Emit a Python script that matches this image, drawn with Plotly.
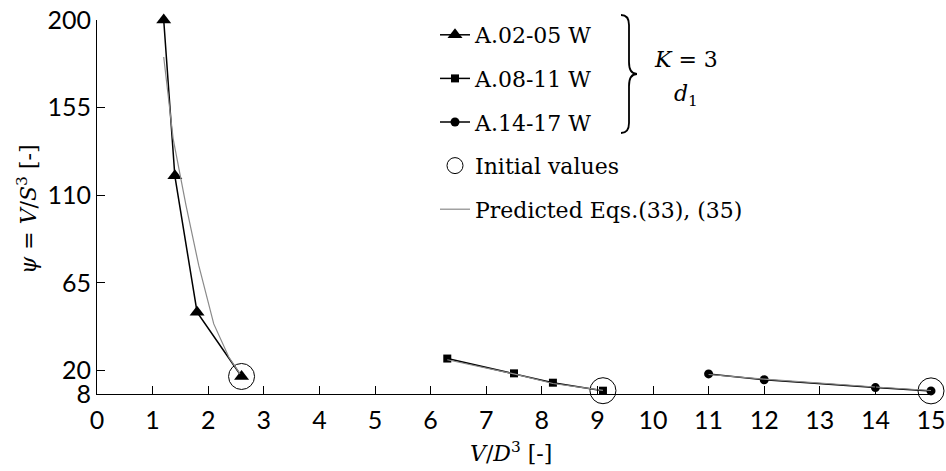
import plotly.graph_objects as go

# ---- data ----
x_a0205 = [1.2, 1.4, 1.8, 2.6]
y_a0205 = [200, 120, 50, 17]
x_a0811 = [6.3, 7.5, 8.2, 9.1]
y_a0811 = [26.2, 18.6, 13.8, 9.7]
x_a1417 = [11, 12, 14, 15]
y_a1417 = [18.3, 15.3, 11.3, 9.6]

x_init = [2.6, 9.1, 15]
y_init = [17, 9.7, 9.6]

x_pred1 = [1.2, 1.37, 1.6, 1.83, 2.1, 2.37, 2.57]
y_pred1 = [181, 139, 105, 74, 44, 27, 18.5]
x_pred2 = [6.3, 7.5, 8.2, 9.1]
y_pred2 = [25.6, 18.3, 13.4, 9.9]
x_pred3 = [11, 12, 14, 15]
y_pred3 = [18.0, 15.6, 11.6, 9.8]

x_ticks = list(range(0, 16))
y_ticks = [8, 20, 65, 110, 155, 200]

SERIF = "DejaVu Serif"
SANS = "Lato"

# geometry (window pixels; body margin is removed below)
W, H = 946, 471
L, R, T, B = 97, 946 - 931, 20, 471 - 394
PW, PH = W - L - R, H - T - B


def px2paper(px, py):
    """window pixel -> paper fraction"""
    return (px - L) / PW, (H - B - py) / PH


fig = go.Figure()

fig.add_trace(go.Scatter(
    x=x_a0205, y=y_a0205, mode="lines+markers", name="A.02-05 W",
    line=dict(color="black", width=1.5),
    marker=dict(symbol="triangle-up", size=13, color="black"),
    cliponaxis=False, legendgroup="g1"))
fig.add_trace(go.Scatter(
    x=x_a0811, y=y_a0811, mode="lines+markers", name="A.08-11 W",
    line=dict(color="black", width=1.5),
    marker=dict(symbol="square", size=8, color="black"),
    cliponaxis=False, legendgroup="g2"))
fig.add_trace(go.Scatter(
    x=x_a1417, y=y_a1417, mode="lines+markers", name="A.14-17 W",
    line=dict(color="black", width=1.5),
    marker=dict(symbol="circle", size=9, color="black"),
    cliponaxis=False, legendgroup="g3"))
fig.add_trace(go.Scatter(
    x=x_init, y=y_init, mode="markers", name="Initial values",
    marker=dict(symbol="circle-open", size=26, color="black", line=dict(width=1)),
    cliponaxis=False, legendgroup="g4"))
fig.add_trace(go.Scatter(
    x=x_pred1, y=y_pred1, mode="lines", name="Predicted Eqs.(33), (35)",
    line=dict(color="#8a8a8a", width=1.2), legendgroup="g5"))
fig.add_trace(go.Scatter(
    x=x_pred2, y=y_pred2, mode="lines", showlegend=False,
    line=dict(color="#8a8a8a", width=1.2), legendgroup="g5"))
fig.add_trace(go.Scatter(
    x=x_pred3, y=y_pred3, mode="lines", showlegend=False,
    line=dict(color="#8a8a8a", width=1.2), legendgroup="g5"))

# brace decoration next to the first three legend entries
pts = [(621, 15), (629, 25), (629, 62), (637, 74), (629, 86), (629, 123), (621, 133)]
pp = [px2paper(a, b) for a, b in pts]
path = (f"M {pp[0][0]},{pp[0][1]} Q {pp[1][0]},{pp[0][1]} {pp[1][0]},{pp[1][1]} "
        f"L {pp[2][0]},{pp[2][1]} Q {pp[2][0]},{pp[3][1]} {pp[3][0]},{pp[3][1]} "
        f"Q {pp[4][0]},{pp[3][1]} {pp[4][0]},{pp[4][1]} "
        f"L {pp[5][0]},{pp[5][1]} Q {pp[5][0]},{pp[6][1]} {pp[6][0]},{pp[6][1]}")
fig.add_shape(type="path", path=path, xref="paper", yref="paper",
              line=dict(color="black", width=1.8))


def label(px, py, text, size=22, angle=0):
    ax, ay = px2paper(px, py)
    fig.add_annotation(x=ax, y=ay, xref="paper", yref="paper", showarrow=False,
                       xanchor="center", yanchor="middle", textangle=angle,
                       text=text, font=dict(family=SERIF, size=size, color="black"))


label(686, 60, "<i>K</i> = 3")
label(686, 95, "<i>d</i><sub>1</sub>")
label(511, 452, "<i>V</i>/<i>D</i><sup>3</sup> [-]")
label(27, 210, "<i>ψ</i> = <i>V</i>/<i>S</i><sup>3</sup> [-]", angle=-90)

fig.update_layout(
    width=W, height=H,
    margin=dict(l=L, r=R, t=T, b=B, autoexpand=False),
    paper_bgcolor="white", plot_bgcolor="white",
    showlegend=True,
    legend=dict(xref="container", yref="container", x=435 / W, y=1 - 14 / H,
                xanchor="left", yanchor="top", tracegroupgap=12,
                font=dict(family=SERIF, size=22, color="black"),
                bgcolor="rgba(0,0,0,0)"),
    xaxis=dict(range=[0, 15], tickvals=x_ticks, ticks="inside", ticklen=8,
               tickcolor="black", showline=True, linecolor="black", linewidth=1,
               showgrid=False, zeroline=False, ticklabelstandoff=4,
               ticklabeloverflow="allow",
               tickfont=dict(family=SANS, size=25, color="black")),
    yaxis=dict(range=[8, 200], tickvals=y_ticks, ticks="inside", ticklen=8,
               tickcolor="black", showline=True, linecolor="black", linewidth=1,
               showgrid=False, zeroline=False, ticklabeloverflow="allow",
               tickfont=dict(family=SANS, size=25, color="black")),
)

fig.write_html("out.html", config={"displayModeBar": False},
               post_script="document.body.style.margin='0px';")
